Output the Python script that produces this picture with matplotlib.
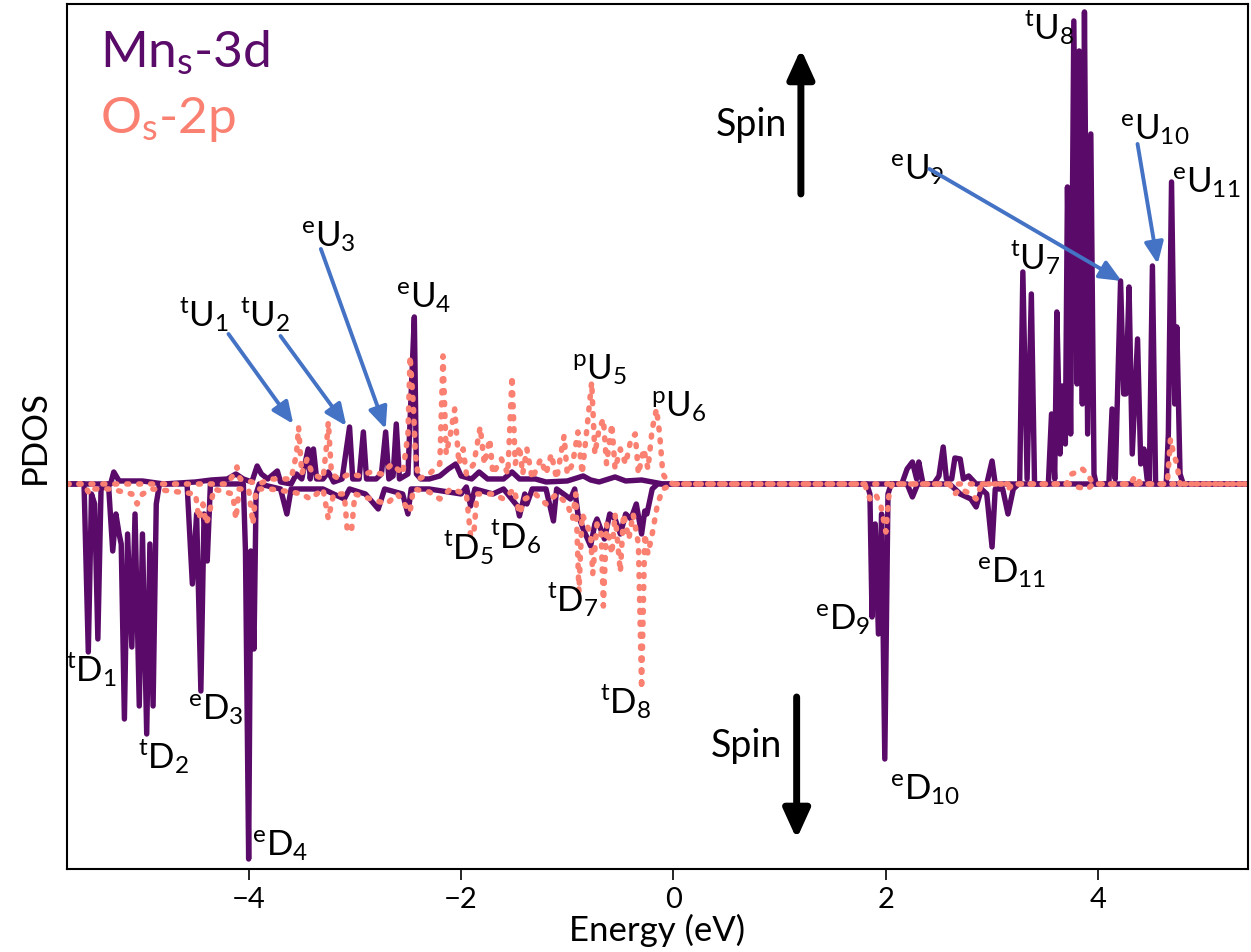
import matplotlib
matplotlib.use("Agg")
import matplotlib.pyplot as plt

plt.rcParams['font.family'] = ['Lato', 'DejaVu Sans']
plt.rcParams['mathtext.default'] = 'regular'

MN_COLOR = '#5a0a68'
O_COLOR = '#fa8072'
ARROW_BLUE = '#4472c4'

# Mn-3d spin up (energy in eV, PDOS in arb. units)
mn_up_e = [-5.71, -5.30, -5.27, -5.22, -5.00, -4.80, -4.50, -4.35, -4.20, -4.12, -4.05, -3.97, -3.92,
           -3.88, -3.82, -3.73, -3.70, -3.60, -3.55, -3.50, -3.44, -3.42, -3.39, -3.36, -3.30, -3.25,
           -3.20, -3.12, -3.05, -3.02, -2.96, -2.92, -2.89, -2.80, -2.75, -2.71, -2.68, -2.64, -2.61,
           -2.58, -2.50, -2.47, -2.44, -2.42, -2.38, -2.30, -2.20, -2.12, -2.05, -2.00, -1.90, -1.83,
           -1.75, -1.60, -1.52, -1.45, -1.30, -1.20, -1.00, -0.85, -0.78, -0.70, -0.55, -0.45, -0.30,
           -0.20, -0.10, 2.15, 2.20, 2.25, 2.29, 2.31, 2.35, 2.45, 2.50, 2.54, 2.57, 2.62, 2.65, 2.70,
           2.73, 2.78, 2.85, 2.95, 3.00, 3.03, 3.26, 3.29, 3.33, 3.37, 3.40, 3.53, 3.56, 3.59, 3.61,
           3.64, 3.66, 3.69, 3.71, 3.74, 3.77, 3.80, 3.82, 3.85, 3.87, 3.90, 3.93, 3.96, 3.98, 4.10,
           4.13, 4.16, 4.21, 4.24, 4.26, 4.29, 4.32, 4.37, 4.40, 4.43, 4.46, 4.48, 4.51, 4.54, 4.64,
           4.66, 4.69, 4.72, 4.74, 4.77, 4.80, 5.41]
mn_up = [0, 0, 0.12, 0.03, 0.03, 0, 0.02, 0.04, 0.05, 0.10, 0.05, 0.02, 0.18,
         0.10, 0.05, 0.13, 0.02, 0.0, 0.10, 0.05, 0.35, 0.05, 0.35, 0.05, 0.05, 0.12,
         0.02, 0.05, 0.57, 0.05, 0.05, 0.52, 0.05, 0.05, 0.10, 0.52, 0.05, 0.08, 0.60,
         0.05, 0.10, 0.90, 1.67, 0.10, 0.05, 0.05, 0.08, 0.15, 0.20, 0.08, 0.05, 0.12,
         0.05, 0.05, 0.12, 0.05, 0.05, 0.02, 0.03, 0.08, 0.04, 0.02, 0.07, 0.03, 0.04,
         0.02, 0.0, 0, 0.15, 0.22, 0.05, 0.22, 0.0, 0.0, 0.08, 0.37, 0.05, 0.05, 0.26, 0.25,
         0.05, 0.08, 0.0, 0.0, 0.23, 0.0, 0, 2.12, 0.05, 1.90, 0.0, 0, 0.70, 0.05, 1.72,
         0.30, 0.98, 0.40, 2.97, 0.50, 4.63, 1.00, 4.33, 0.80, 4.72, 0.50, 3.50, 0.10, 0, 0,
         0.75, 0.05, 2.03, 0.90, 0.90, 1.97, 0.30, 1.45, 0.20, 0.35, 0.05, 0, 2.18, 0.0, 0,
         0.50, 3.02, 0.80, 1.57, 0.10, 0, 0]

# Mn-3d spin down
mn_dn_e = [-5.71, -5.55, -5.51, -5.48, -5.45, -5.42, -5.39, -5.32, -5.28, -5.25, -5.22, -5.20, -5.17,
           -5.14, -5.10, -5.07, -5.03, -5.00, -4.96, -4.93, -4.90, -4.87, -4.84, -4.58, -4.53, -4.49,
           -4.45, -4.42, -4.39, -4.36, -4.05, -4.03, -4.00, -3.98, -3.95, -3.93, -3.90, -3.70, -3.64,
           -3.60, -3.50, -3.30, -3.10, -3.05, -2.90, -2.78, -2.72, -2.55, -2.50, -2.47, -2.30, -2.00,
           -1.95, -1.91, -1.87, -1.70, -1.60, -1.47, -1.45, -1.40, -1.38, -1.33, -1.20, -1.13, -1.10,
           -0.97, -0.93, -0.90, -0.85, -0.78, -0.74, -0.72, -0.65, -0.60, -0.55, -0.50, -0.45, -0.40,
           -0.35, -0.30, -0.27, -0.25, -0.20, -0.15, 1.82, 1.85, 1.87, 1.90, 1.93, 1.96, 1.99, 2.02,
           2.05, 2.20, 2.25, 2.30, 2.60, 2.70, 2.80, 2.85, 2.90, 2.95, 3.00, 3.03, 3.10, 3.15, 3.20,
           3.25, 5.41]
mn_dn = [0, 0, -1.68, -0.10, -0.20, -1.55, -0.05, 0, -0.67, -0.30, -0.50, -0.60, -2.35,
         -0.50, -1.63, -0.30, -2.22, -0.50, -2.50, -0.60, -2.22, -0.20, 0, 0, -1.00, -0.30,
         -2.07, -0.30, -0.77, 0, 0, -0.67, -3.75, -0.67, -1.65, -0.10, 0, -0.05, -0.30,
         -0.05, -0.05, -0.05, -0.15, -0.05, -0.10, -0.25, -0.05, -0.10, -0.30, -0.05, -0.05, -0.10,
         -0.03, -0.22, -0.05, -0.10, -0.05, -0.22, -0.32, -0.10, -0.20, -0.05, -0.05, -0.37, -0.05,
         -0.15, -0.05, -0.30, -0.45, -0.62, -0.40, -0.35, -0.55, -0.30, -0.35, -0.50, -0.30, -0.35,
         -0.20, -0.50, -0.27, -0.30, -0.05, 0, 0, -0.10, -1.33, -0.40, -1.50, -0.30, -2.75, -0.10,
         0, 0, -0.13, 0, 0, -0.10, -0.15, -0.23, -0.05, -0.10, -0.63, -0.05, -0.05, -0.30, -0.05,
         0, 0]

# O-2p spin up
o_up_e = [-5.71, -4.20, -4.14, -4.11, -4.08, -3.90, -3.80, -3.60, -3.55, -3.53, -3.50, -3.45, -3.40,
          -3.30, -3.27, -3.25, -3.22, -3.15, -3.05, -2.95, -2.85, -2.75, -2.65, -2.55, -2.50, -2.48,
          -2.45, -2.43, -2.40, -2.30, -2.20, -2.17, -2.14, -2.10, -2.06, -2.02, -1.98, -1.95, -1.88,
          -1.82, -1.78, -1.73, -1.70, -1.62, -1.56, -1.52, -1.49, -1.45, -1.42, -1.38, -1.33, -1.25,
          -1.20, -1.15, -1.10, -1.03, -1.00, -0.95, -0.90, -0.86, -0.82, -0.77, -0.74, -0.70, -0.66,
          -0.63, -0.58, -0.55, -0.50, -0.45, -0.40, -0.36, -0.33, -0.28, -0.24, -0.20, -0.16, -0.13,
          -0.10, -0.05, 0.00, 3.70, 3.75, 3.80, 3.85, 3.90, 3.95, 4.30, 4.35, 4.40, 4.65, 4.68, 4.71,
          4.74, 4.77, 5.41]
o_up = [0, 0, 0.10, 0.17, 0.05, 0, 0.05, 0.05, 0.30, 0.57, 0.10, 0.25, 0.10,
        0.05, 0.35, 0.62, 0.10, 0.05, 0.10, 0.08, 0.12, 0.10, 0.20, 0.10, 0.50, 1.28,
        0.80, 0.30, 0.05, 0.10, 0.20, 1.28, 0.30, 0.50, 0.75, 0.20, 0.35, 0.10, 0.20,
        0.57, 0.20, 0.45, 0.10, 0.25, 0.10, 1.08, 0.20, 0.38, 0.10, 0.35, 0.05, 0.25,
        0.10, 0.30, 0.05, 0.48, 0.10, 0.20, 0.52, 0.10, 0.50, 1.02, 0.30, 0.55, 0.65,
        0.20, 0.60, 0.15, 0.35, 0.20, 0.45, 0.50, 0.10, 0.35, 0.15, 0.55, 0.75, 0.50,
        0.10, 0.02, 0, 0, 0.10, 0.12, 0.15, 0.10, 0, 0, 0.08, 0, 0, 0.45, 0.30,
        0.20, 0, 0]

# O-2p spin down
o_dn_e = [-5.71, -5.55, -5.50, -5.45, -5.30, -5.10, -5.05, -5.00, -4.90, -4.50, -4.47, -4.43, -4.40,
          -4.37, -4.33, -4.15, -4.12, -4.09, -4.00, -3.96, -3.93, -3.80, -3.60, -3.50, -3.42, -3.30,
          -3.25, -3.20, -3.10, -3.07, -3.03, -3.00, -2.85, -2.70, -2.60, -2.48, -2.45, -2.30, -2.20,
          -2.10, -1.95, -1.91, -1.88, -1.85, -1.70, -1.60, -1.50, -1.45, -1.40, -1.30, -1.20, -1.10,
          -1.00, -0.95, -0.92, -0.89, -0.86, -0.82, -0.78, -0.76, -0.72, -0.68, -0.66, -0.63, -0.58,
          -0.55, -0.50, -0.47, -0.42, -0.38, -0.33, -0.30, -0.27, -0.24, -0.20, -0.15, -0.10, 0.00,
          1.80, 1.85, 1.90, 1.95, 2.00, 2.03, 2.06, 2.60, 2.65, 2.70, 2.80, 2.85, 2.90, 3.10, 3.15,
          3.20, 3.75, 3.80, 3.90, 3.95, 5.41]
o_dn = [0, 0, -0.10, -0.05, -0.05, -0.10, -0.20, -0.10, -0.05, -0.10, -0.35, -0.20, -0.40,
        -0.30, -0.05, -0.10, -0.35, -0.05, -0.05, -0.40, -0.05, -0.05, -0.08, -0.10, -0.15, -0.05,
        -0.35, -0.10, -0.10, -0.48, -0.45, -0.10, -0.15, -0.20, -0.10, -0.28, -0.05, -0.08, -0.15,
        -0.05, -0.10, -0.52, -0.50, -0.10, -0.10, -0.15, -0.05, -0.30, -0.15, -0.10, -0.20, -0.10,
        -0.20, -0.35, -0.10, -1.08, -0.30, -0.40, -0.50, -0.90, -0.40, -0.50, -1.22, -0.40, -0.70,
        -0.30, -0.88, -0.30, -0.55, -0.30, -0.60, -2.05, -0.50, -0.70, -0.50, -0.20, -0.05, 0,
        0, -0.15, -0.10, -0.20, -0.48, -0.10, 0, 0, -0.10, -0.05, -0.10, -0.15, 0, 0, -0.05,
        0, 0, -0.03, -0.05, 0, 0]

# peak labels: (superscript, letter, subscript, energy, pdos)
labels = [
    ('t', 'U', '1', -4.42, 1.70), ('t', 'U', '2', -3.84, 1.70), ('e', 'U', '3', -3.25, 2.48),
    ('e', 'U', '4', -2.35, 1.87), ('p', 'U', '5', -0.70, 1.15), ('p', 'U', '6', 0.05, 0.78),
    ('t', 'U', '7', 3.41, 2.27), ('t', 'U', '8', 3.54, 4.57), ('e', 'U', '9', 2.30, 3.15),
    ('e', 'U', '10', 4.53, 3.55), ('e', 'U', '11', 5.02, 3.02),
    ('t', 'D', '1', -5.48, -1.85), ('t', 'D', '2', -4.80, -2.72), ('e', 'D', '3', -4.31, -2.25),
    ('e', 'D', '4', -3.70, -3.61), ('t', 'D', '5', -1.93, -0.63), ('t', 'D', '6', -1.48, -0.52),
    ('t', 'D', '7', -0.95, -1.15), ('t', 'D', '8', -0.45, -2.17), ('e', 'D', '9', 1.59, -1.35),
    ('e', 'D', '10', 2.37, -3.05), ('e', 'D', '11', 3.18, -0.88),
]

# blue arrows: (tail_e, tail_y, head_e, head_y)
blue_arrows = [
    (-4.19, 1.50, -3.58, 0.60),
    (-3.70, 1.48, -3.08, 0.58),
    (-3.32, 2.35, -2.71, 0.55),
    (2.41, 3.15, 4.22, 2.03),
    (4.37, 3.40, 4.56, 2.20),
]

fig = plt.figure(figsize=(12.51, 9.53), dpi=100)
ax = fig.add_axes([0.0536, 0.0871, 0.9440, 0.9077])

dots = (0, (0.35, 1.8))
ax.plot(mn_up_e, mn_up, color=MN_COLOR, lw=3.9, solid_joinstyle='round')
ax.plot(mn_dn_e, mn_dn, color=MN_COLOR, lw=3.9, solid_joinstyle='round')
ax.plot(o_up_e, o_up, color=O_COLOR, lw=4.0, ls=dots, dash_capstyle='round')
ax.plot(o_dn_e, o_dn, color=O_COLOR, lw=4.0, ls=dots, dash_capstyle='round')

ax.set_xlim(-5.71, 5.41)
ax.set_ylim(-3.85, 4.80)
ax.set_xticks([-4, -2, 0, 2, 4])
ax.set_xticklabels(['\u22124', '\u22122', '0', '2', '4'])
ax.set_yticks([])
ax.tick_params(axis='x', labelsize=21, length=8, width=1.2, pad=4)
for sp in ax.spines.values():
    sp.set_linewidth(1.5)
ax.set_xlabel('Energy (eV)', fontsize=25, labelpad=1)
ax.set_ylabel('PDOS', fontsize=25, labelpad=12)

for sup, letter, sub, e, y in labels:
    ax.text(e, y, r'$^{%s}$%s$_{%s}$' % (sup, letter, sub), fontsize=25,
            ha='center', va='center')

for te, ty, he, hy in blue_arrows:
    ax.annotate('', xy=(he, hy), xytext=(te, ty),
                arrowprops=dict(arrowstyle='-|>,head_length=0.5,head_width=0.22',
                                color=ARROW_BLUE, lw=2.8, mutation_scale=26,
                                shrinkA=0, shrinkB=0))

# spin arrows
ax.annotate('', xy=(1.20, 4.35), xytext=(1.20, 2.90),
            arrowprops=dict(arrowstyle='-|>,head_length=0.55,head_width=0.25',
                            color='black', lw=5, mutation_scale=32, shrinkA=0, shrinkB=0))
ax.annotate('', xy=(1.16, -3.55), xytext=(1.16, -2.13),
            arrowprops=dict(arrowstyle='-|>,head_length=0.55,head_width=0.25',
                            color='black', lw=5, mutation_scale=32, shrinkA=0, shrinkB=0))
ax.text(0.73, 3.60, 'Spin', fontsize=27, ha='center', va='center')
ax.text(0.69, -2.61, 'Spin', fontsize=27, ha='center', va='center')

# species labels
ax.text(0.028, 0.945, r'Mn$_s$-3d', transform=ax.transAxes, fontsize=37,
        color=MN_COLOR, va='center', ha='left')
ax.text(0.028, 0.868, r'O$_s$-2p', transform=ax.transAxes, fontsize=37,
        color=O_COLOR, va='center', ha='left')

fig.savefig('out.png', dpi=100)
